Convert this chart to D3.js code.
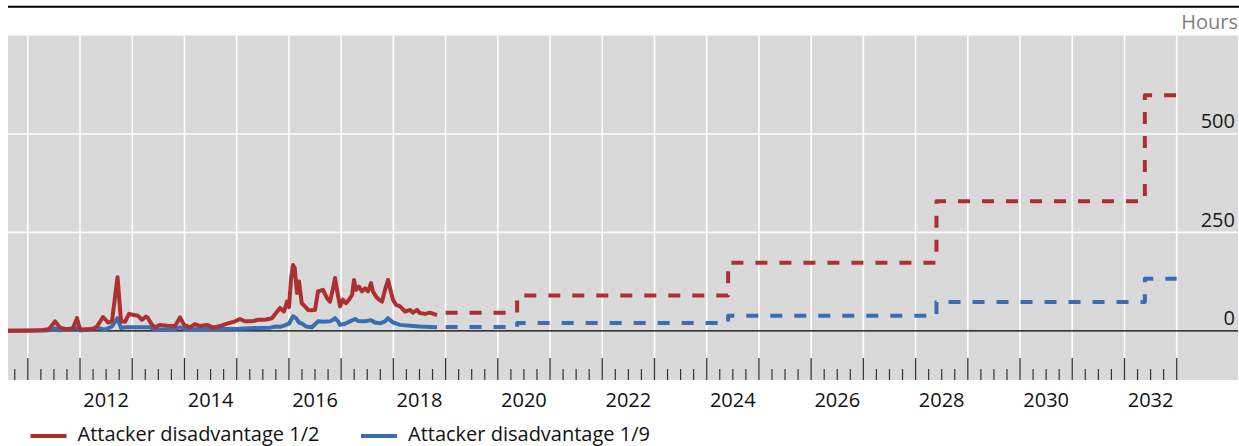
<!DOCTYPE html>
<html>
<head>
<meta charset="utf-8">
<script src="https://cdn.jsdelivr.net/npm/d3@7"></script>
<style>
  html, body { margin: 0; padding: 0; background: #ffffff; }
  svg { display: block; font-family: "Open Sans", "Noto Sans", sans-serif; }
</style>
</head>
<body>
<svg id="chart" width="1239" height="446"></svg>
<script>
// ---- Data (decimal years, hours) ----
const redHistYears = [2010.621,2011.042,2011.291,2011.387,2011.425,2011.521,2011.617,2011.732,2011.808,2011.866,2011.942,2012.000,2012.153,2012.249,2012.325,2012.440,2012.536,2012.612,2012.718,2012.785,2012.862,2012.938,2013.034,2013.111,2013.187,2013.264,2013.302,2013.378,2013.436,2013.532,2013.666,2013.819,2013.915,2013.991,2014.106,2014.202,2014.298,2014.432,2014.546,2014.680,2014.815,2014.968,2015.064,2015.160,2015.294,2015.408,2015.542,2015.676,2015.753,2015.830,2015.906,2015.964,2016.002,2016.040,2016.079,2016.111,2016.155,2016.194,2016.245,2016.308,2016.366,2016.423,2016.500,2016.557,2016.653,2016.730,2016.787,2016.845,2016.883,2016.921,2016.979,2017.036,2017.094,2017.151,2017.209,2017.247,2017.285,2017.342,2017.400,2017.457,2017.515,2017.572,2017.610,2017.668,2017.725,2017.783,2017.840,2017.898,2017.936,2017.993,2018.051,2018.128,2018.223,2018.319,2018.377,2018.453,2018.510,2018.606,2018.702,2018.836];
const redHistValues = [0,1,2,4,7,24,8,4,5,7,32,3,4,4,11,35,21,24,136,24,23,43,40,38,28,36,32,15,9,15,13,12,34,15,9,17,12,15,8,12,18,24,30,24,24,28,28,32,45,58,49,74,60,130,167,159,96,125,70,62,53,52,53,100,104,83,74,108,134,104,62,79,70,79,91,129,104,112,100,108,100,121,100,87,79,74,104,129,108,79,66,62,49,53,46,53,45,43,46,40];

const blueHistYears = [2010.621,2011.329,2011.425,2011.521,2011.617,2011.942,2012.000,2012.153,2012.325,2012.478,2012.612,2012.718,2012.785,2012.862,2013.340,2013.436,2013.819,2013.915,2014.010,2015.064,2015.351,2015.638,2015.753,2015.830,2015.906,2016.002,2016.079,2016.136,2016.194,2016.251,2016.327,2016.442,2016.557,2016.653,2016.787,2016.845,2016.883,2016.940,2016.979,2017.074,2017.170,2017.266,2017.323,2017.457,2017.572,2017.649,2017.745,2017.840,2017.898,2017.993,2018.128,2018.319,2018.510,2018.836];
const blueHistValues = [0,1,2,6,1,7,1,3,8,3,11,32,7,9,9,3,4,9,4,5,7,8,11,10,13,18,37,32,21,18,11,9,24,23,24,28,32,24,15,18,24,30,25,24,27,21,19,24,32,21,15,13,11,9];

const projYears = [2019.0, 2020.37, 2024.41, 2028.40, 2032.39, 2033.0];
const redProjValues = [45.6, 89.5, 173, 329, 598, 598];
const blueProjValues = [9.4, 19.5, 38, 73, 132, 132];

const gridYears = d3.range(2011, 2034);          // yearly gridlines / major ticks
const labelYears = d3.range(2012, 2033, 2);      // tick labels
const yTickValues = [0, 250, 500];
const seriesNames = ["Attacker disadvantage 1/2", "Attacker disadvantage 1/9"];
const seriesColors = ["#ad2f2f", "#3b6db2"];
const unitLabel = "Hours";

// ---- Layout ----
const svg = d3.select("#chart");
const plotLeft = 8, plotRight = 1238, plotTop = 35.5, plotBottom = 380;

const x = d3.scaleLinear().domain([2011, 2033]).range([27.8, 1176.7]);
const y = d3.scaleLinear().domain([-125, 750]).range([plotBottom, plotTop]);

// top rule
svg.append("line").attr("x1", 8).attr("x2", 1239).attr("y1", 6.7).attr("y2", 6.7)
  .attr("stroke", "#000").attr("stroke-width", 2);

// background
svg.append("rect").attr("x", plotLeft).attr("y", plotTop)
  .attr("width", plotRight - plotLeft).attr("height", plotBottom - plotTop)
  .attr("fill", "#d9d9d9");

// vertical gridlines
svg.append("g").selectAll("line").data(gridYears).join("line")
  .attr("x1", d => x(d)).attr("x2", d => x(d))
  .attr("y1", plotTop).attr("y2", 358)
  .attr("stroke", "#ffffff").attr("stroke-width", 1.6);

// horizontal gridlines
svg.append("g").selectAll("line").data(yTickValues.filter(v => v !== 0)).join("line")
  .attr("x1", plotLeft).attr("x2", plotRight)
  .attr("y1", d => y(d)).attr("y2", d => y(d))
  .attr("stroke", "#ffffff").attr("stroke-width", 1.6);

// zero line
svg.append("line").attr("x1", plotLeft).attr("x2", plotRight)
  .attr("y1", y(0)).attr("y2", y(0)).attr("stroke", "#000").attr("stroke-width", 1.2);

// ticks (major yearly, minor quarterly) drawn upward from bottom
const minorTicks = [];
for (let yr = 2010; yr < 2033; yr++) {
  [0.25, 0.5, 0.75].forEach(q => { if (yr + q >= 2010.7) minorTicks.push(yr + q); });
}
const tickG = svg.append("g");
tickG.selectAll("line.maj").data(gridYears).join("line").attr("class", "maj")
  .attr("x1", d => x(d)).attr("x2", d => x(d))
  .attr("y1", 358).attr("y2", plotBottom)
  .attr("stroke", "#333").attr("stroke-width", 1.2);
tickG.selectAll("line.min").data(minorTicks).join("line").attr("class", "min")
  .attr("x1", d => x(d)).attr("x2", d => x(d))
  .attr("y1", 369).attr("y2", plotBottom)
  .attr("stroke", "#333").attr("stroke-width", 1.2);

// x labels
svg.append("g").selectAll("text").data(labelYears).join("text")
  .attr("x", d => x(d + 0.5)).attr("y", 407)
  .attr("text-anchor", "middle").attr("font-size", 20).attr("fill", "#111")
  .text(d => d);

// y labels
svg.append("g").selectAll("text").data(yTickValues).join("text")
  .attr("x", 1235).attr("y", d => y(d) - 5.5)
  .attr("text-anchor", "end").attr("font-size", 20).attr("fill", "#1a1a1a")
  .text(d => d);

svg.append("text").attr("x", 1238).attr("y", 29).attr("text-anchor", "end")
  .attr("font-size", 20).attr("fill", "#808080").text(unitLabel);

// series
const lineLinear = d3.line().x(d => x(d[0])).y(d => y(d[1])).curve(d3.curveLinear);
const lineStep = d3.line().x(d => x(d[0])).y(d => y(d[1])).curve(d3.curveStepAfter);

const histData = [d3.zip(redHistYears, redHistValues), d3.zip(blueHistYears, blueHistValues)];
const projData = [d3.zip(projYears, redProjValues), d3.zip(projYears, blueProjValues)];

// draw blue first, red on top
[1, 0].forEach(i => {
  svg.append("path").datum(projData[i]).attr("d", lineStep)
    .attr("fill", "none").attr("stroke", seriesColors[i]).attr("stroke-width", 4)
    .attr("stroke-dasharray", "12,12").attr("stroke-linejoin", "round");
  svg.append("path").datum(histData[i]).attr("d", lineLinear)
    .attr("fill", "none").attr("stroke", seriesColors[i]).attr("stroke-width", 4)
    .attr("stroke-linejoin", "round").attr("stroke-linecap", "butt");
});

// legend
const legendX = [30.5, 361];
seriesNames.forEach((name, i) => {
  svg.append("line").attr("x1", legendX[i]).attr("x2", legendX[i] + 36)
    .attr("y1", 436).attr("y2", 436)
    .attr("stroke", seriesColors[i]).attr("stroke-width", 4);
  svg.append("text").attr("x", legendX[i] + 47).attr("y", 440.5)
    .attr("font-size", 20).attr("fill", "#111").text(name);
});
</script>
</body>
</html>
